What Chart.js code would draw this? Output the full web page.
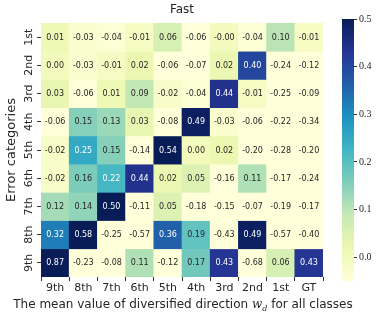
<!DOCTYPE html>
<html>
<head>
<meta charset="utf-8">
<script src="https://cdn.jsdelivr.net/npm/chart.js@4.4.1/dist/chart.umd.min.js"></script>
<style>
  body { margin: 0; background: #fff; }
  #wrap { position: relative; width: 381px; height: 319px; }
  #heat { position: absolute; left: 0; top: 0; }
  #cbar { position: absolute; left: 335px; top: 0; }
</style>
</head>
<body>
<div id="wrap">
  <canvas id="heat" width="381" height="319"></canvas>
  <canvas id="cbar" width="46" height="319"></canvas>
</div>
<script>
// categories
const colLabels = ['9th','8th','7th','6th','5th','4th','3rd','2nd','1st','GT'];
const rowLabels = ['1st','2nd','3rd','4th','5th','6th','7th','8th','9th'];
// mean value of w_d per row (error category) and column
const row1st = [0.01, -0.03, -0.04, -0.01, 0.06, -0.06, -0.004, -0.04, 0.10, -0.01];
const row2nd = [0.00, -0.03, -0.01, 0.02, -0.06, -0.07, 0.02, 0.40, -0.24, -0.12];
const row3rd = [0.03, -0.06, 0.01, 0.09, -0.02, -0.04, 0.44, -0.01, -0.25, -0.09];
const row4th = [-0.06, 0.15, 0.13, 0.03, -0.08, 0.49, -0.03, -0.06, -0.22, -0.34];
const row5th = [-0.02, 0.25, 0.15, -0.14, 0.54, 0.00, 0.02, -0.20, -0.28, -0.20];
const row6th = [-0.02, 0.16, 0.22, 0.44, 0.02, 0.05, -0.16, 0.11, -0.17, -0.24];
const row7th = [0.12, 0.14, 0.50, -0.11, 0.05, -0.18, -0.15, -0.07, -0.19, -0.17];
const row8th = [0.32, 0.58, -0.25, -0.57, 0.36, 0.19, -0.43, 0.49, -0.57, -0.40];
const row9th = [0.87, -0.23, -0.08, 0.11, -0.12, 0.17, 0.43, -0.68, 0.06, 0.43];
const rows = [row1st,row2nd,row3rd,row4th,row5th,row6th,row7th,row8th,row9th];
const cbTicks = [0.0, 0.1, 0.2, 0.3, 0.4, 0.5];
const vmin = -0.05, vmax = 0.5;

// YlGnBu
const stops = ['#ffffd9','#edf8b1','#c7e9b4','#7fcdbb','#41b6c4','#1d91c0','#225ea8','#253494','#081d58'];
function hex(h){ return [1,3,5].map(i => parseInt(h.substr(i,2),16)); }
function cmap(v){
  let t = (v - vmin) / (vmax - vmin);
  t = Math.max(0, Math.min(1, t)) * (stops.length - 1);
  const i = Math.min(Math.floor(t), stops.length - 2);
  const f = t - i;
  const a = hex(stops[i]), b = hex(stops[i+1]);
  const c = a.map((x, k) => Math.round(x + (b[k] - x) * f));
  return 'rgb(' + c.join(',') + ')';
}

const textCol = '#262626';
const sans = 'DejaVu Sans';

const labelPlugin = {
  id: 'labels',
  afterDatasetsDraw(chart){
    const ctx = chart.ctx;
    const area = chart.chartArea;
    const ys = chart.scales.y;
    ctx.save();
    ctx.textAlign = 'center';
    ctx.textBaseline = 'middle';
    ctx.font = '8px "' + sans + '"';
    rows.forEach((r, i) => {
      const meta = chart.getDatasetMeta(i);
      meta.data.forEach((el, j) => {
        const v = r[j];
        ctx.fillStyle = v > 0.2 ? '#ffffff' : textCol;
        ctx.fillText(v.toFixed(2), el.x, (el.y + el.base) / 2 + 0.5);
      });
    });
    // y tick labels, rotated
    ctx.fillStyle = textCol;
    ctx.font = '11px "' + sans + '"';
    rowLabels.forEach((lab, i) => {
      const y = ys.getPixelForValue(i + 0.5);
      ctx.save();
      ctx.translate(29, y);
      ctx.rotate(-Math.PI / 2);
      ctx.fillText(lab, 0, 0);
      ctx.restore();
    });
    // y title
    ctx.font = '13px "' + sans + '"';
    ctx.save();
    ctx.translate(12, (area.top + area.bottom) / 2);
    ctx.rotate(-Math.PI / 2);
    ctx.fillText('Error categories', 0, 0);
    ctx.restore();
    // title
    ctx.font = '12px "' + sans + '"';
    ctx.fillText('Fast', (area.left + area.right) / 2, 10);
    // x title with math w_d
    const p1 = 'The mean value of diversified direction ';
    const p2 = ' for all classes';
    ctx.font = '12px "' + sans + '"';
    const w1 = ctx.measureText(p1).width;
    const w3 = ctx.measureText(p2).width;
    ctx.font = 'italic 12px "DejaVu Serif"';
    const ww = ctx.measureText('w').width;
    ctx.font = 'italic 8px "DejaVu Serif"';
    const wd = ctx.measureText('d').width;
    const total = w1 + ww + wd + w3;
    let x = 183 - total / 2;
    const yb = 305;
    ctx.textAlign = 'left';
    ctx.font = '12px "' + sans + '"';
    ctx.fillText(p1, x, yb); x += w1;
    ctx.font = 'italic 12px "DejaVu Serif"';
    ctx.fillText('w', x, yb); x += ww;
    ctx.font = 'italic 8px "DejaVu Serif"';
    ctx.fillText('d', x, yb + 4); x += wd;
    ctx.font = '12px "' + sans + '"';
    ctx.fillText(p2, x, yb);
    ctx.restore();
  }
};

new Chart(document.getElementById('heat').getContext('2d'), {
  type: 'bar',
  data: {
    labels: colLabels,
    datasets: rows.map((r, i) => ({
      label: rowLabels[i],
      data: r.map(() => 1),
      backgroundColor: r.map(cmap),
      borderWidth: 0,
      barPercentage: 1,
      categoryPercentage: 1
    }))
  },
  options: {
    responsive: false,
    devicePixelRatio: 1,
    animation: false,
    layout: { padding: { top: 23, right: 58, left: 0, bottom: 0 } },
    plugins: { legend: { display: false }, title: { display: false }, tooltip: { enabled: false } },
    scales: {
      x: {
        stacked: true,
        grid: { drawOnChartArea: false, drawTicks: true, tickLength: 4, color: '#333' },
        border: { display: false },
        ticks: { color: textCol, font: { family: sans, size: 11 }, padding: 1, maxRotation: 0 },
        afterFit(s){ s.height = 42; }
      },
      y: {
        stacked: true,
        min: 0, max: 9,
        reverse: true,
        afterBuildTicks(s){ s.ticks = rowLabels.map((l, i) => ({ value: i + 0.5 })); },
        grid: { drawOnChartArea: false, drawTicks: true, tickLength: 4, color: '#333' },
        border: { display: false },
        ticks: { display: false },
        afterFit(s){ s.width = 41; }
      }
    }
  },
  plugins: [labelPlugin]
});

// colorbar
const segs = [];
const nSeg = 110;
for (let k = 0; k < nSeg; k++) {
  const lo = vmin + (vmax - vmin) * k / nSeg;
  const hi = vmin + (vmax - vmin) * (k + 1) / nSeg;
  segs.push({ data: [[lo, hi + 0.0005]], backgroundColor: cmap((lo + hi) / 2), borderWidth: 0,
              barPercentage: 1, categoryPercentage: 1, grouped: false });
}
new Chart(document.getElementById('cbar').getContext('2d'), {
  type: 'bar',
  data: { labels: [''], datasets: segs },
  options: {
    responsive: false,
    devicePixelRatio: 1,
    animation: false,
    layout: { padding: { top: 19, bottom: 38, left: 7, right: 0 } },
    plugins: { legend: { display: false }, tooltip: { enabled: false } },
    scales: {
      x: { display: false },
      y: {
        position: 'right',
        min: vmin, max: vmax,
        afterBuildTicks(s){ s.ticks = cbTicks.map(v => ({ value: v })); },
        grid: { drawOnChartArea: false, drawTicks: true, tickLength: 3, color: '#333' },
        border: { display: false },
        ticks: { color: textCol, font: { family: 'Liberation Serif', size: 10 }, padding: 2,
                 callback: v => v.toFixed(1) },
        afterFit(s){ s.width = 27; }
      }
    }
  }
});
</script>
</body>
</html>
